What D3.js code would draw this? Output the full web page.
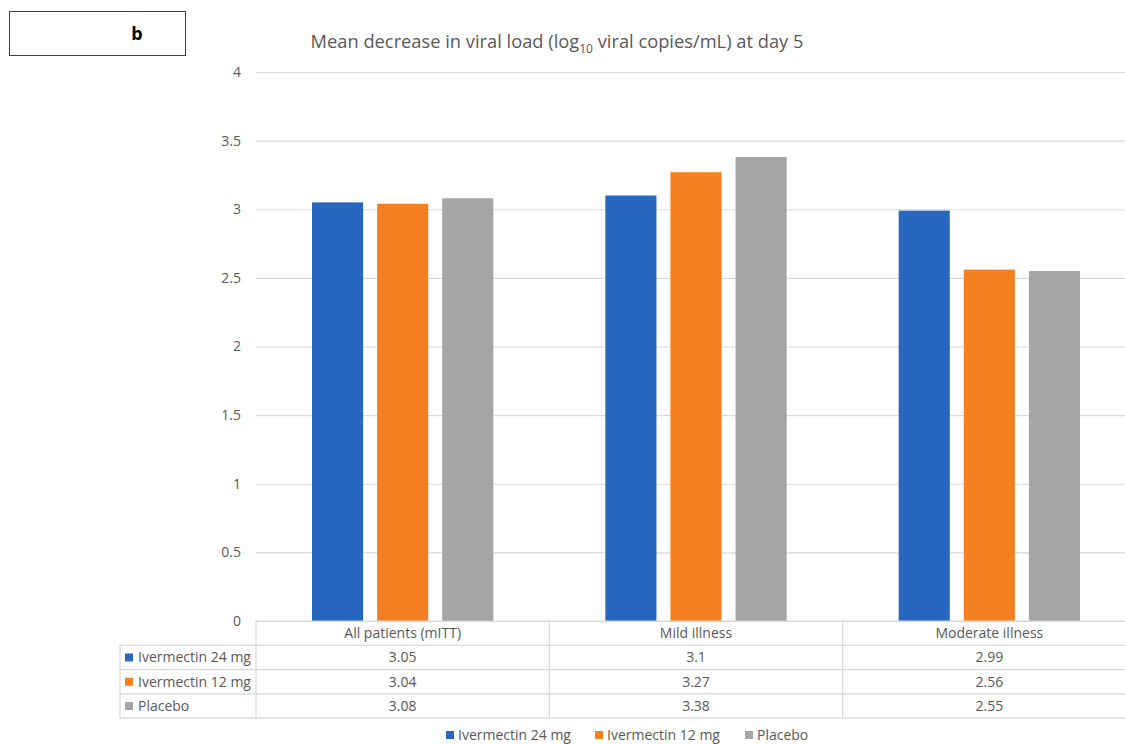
<!DOCTYPE html>
<html><head><meta charset="utf-8">
<script src="https://cdn.jsdelivr.net/npm/d3@7"></script>
<style>body{margin:0;background:#fff}svg{display:block}text{font-family:"Open Sans",sans-serif}</style>
</head><body><svg id="c" width="1125" height="744"></svg>
<script>
const categories = ["All patients (mITT)", "Mild illness", "Moderate illness"];
const seriesNames = ["Ivermectin 24 mg", "Ivermectin 12 mg", "Placebo"];
const iver24 = [3.05, 3.1, 2.99];
const iver12 = [3.04, 3.27, 2.56];
const placebo = [3.08, 3.38, 2.55];
const yTicks = [0, 0.5, 1, 1.5, 2, 2.5, 3, 3.5, 4];
const colors = ["#2767C0", "#F47F20", "#A5A5A5"];
const series = [iver24, iver12, placebo];

const svg = d3.select("#c");
const x = d3.scaleBand().domain(categories).range([256, 1136]);
const y = d3.scaleLinear().domain([0, 4]).range([621, 72]);
const xs = d3.scaleBand().domain(seriesNames).range([0, x.bandwidth()]).paddingInner(0.215).paddingOuter(0.86);

const fs = 14;
const txtC = "#595959";

// frame "b"
svg.append("rect").attr("x", 9.5).attr("y", 11.5).attr("width", 176).attr("height", 44).attr("fill", "none").attr("stroke", "#404040").attr("stroke-width", 1);
svg.append("text").attr("x", 137).attr("y", 40).attr("text-anchor", "middle").attr("font-weight", "bold").attr("font-size", 18).attr("fill", "#000").text("b");

// title
const t = svg.append("text").attr("x", 557).attr("y", 48).attr("text-anchor", "middle").attr("font-size", 18.3).attr("fill", txtC);
t.append("tspan").text("Mean decrease in viral load (log");
t.append("tspan").attr("font-size", 12).attr("dy", 5).text("10");
t.append("tspan").attr("dy", -5).text(" viral copies/mL) at day 5");

// grid
const yAxis = d3.axisLeft(y).tickValues(yTicks).tickSize(-(1125 - 256)).tickFormat(d3.format("~g")).tickPadding(15);
const ga = svg.append("g").attr("transform", "translate(256,0)").call(yAxis);
ga.select(".domain").remove();
ga.selectAll(".tick line").attr("stroke", "#D9D9D9").attr("stroke-width", 1.2);
ga.selectAll(".tick text").attr("fill", txtC).attr("font-size", fs).attr("font-family", "'Open Sans',sans-serif");

// bars
seriesNames.forEach((s, si) => {
  svg.append("g").selectAll("rect").data(categories).join("rect")
    .attr("x", c => x(c) + xs(s))
    .attr("width", xs.bandwidth())
    .attr("y", (c, i) => y(series[si][i]))
    .attr("height", (c, i) => y(0) - y(series[si][i]))
    .attr("fill", colors[si]);
});

// data table
const rowH = 24.3;
const tableTop = 621;
const tableLeft = 120;
const lineC = "#D9D9D9";
const gt = svg.append("g");
gt.append("line").attr("x1", 256).attr("x2", 1136).attr("y1", tableTop).attr("y2", tableTop).attr("stroke", lineC).attr("stroke-width", 1.2);
for (let r = 1; r <= 4; r++) {
  gt.append("line").attr("x1", tableLeft).attr("x2", 1136).attr("y1", tableTop + r * rowH).attr("y2", tableTop + r * rowH).attr("stroke", lineC).attr("stroke-width", 1.2);
}
gt.append("line").attr("x1", tableLeft).attr("x2", tableLeft).attr("y1", tableTop + rowH).attr("y2", tableTop + 4 * rowH).attr("stroke", lineC).attr("stroke-width", 1.2);
categories.forEach(c => {
  gt.append("line").attr("x1", x(c)).attr("x2", x(c)).attr("y1", tableTop).attr("y2", tableTop + 4 * rowH).attr("stroke", lineC).attr("stroke-width", 1.2);
});
gt.selectAll("text.hdr").data(categories).join("text").attr("class", "hdr")
  .attr("x", c => x(c) + x.bandwidth() / 2).attr("y", tableTop + rowH / 2 + 5)
  .attr("text-anchor", "middle").attr("font-size", fs).attr("fill", txtC).text(c => c);
seriesNames.forEach((s, si) => {
  const yy = tableTop + (si + 1) * rowH + rowH / 2;
  gt.append("rect").attr("x", 125).attr("y", yy - 4).attr("width", 8).attr("height", 8).attr("fill", colors[si]);
  gt.append("text").attr("x", 138).attr("y", yy + 5).attr("font-size", fs).attr("fill", txtC).text(s);
  gt.append("g").selectAll("text").data(categories).join("text")
    .attr("x", c => x(c) + x.bandwidth() / 2).attr("y", yy + 5)
    .attr("text-anchor", "middle").attr("font-size", fs).attr("fill", txtC)
    .text((c, i) => series[si][i]);
});

// legend
const legX = [446, 595, 745];
seriesNames.forEach((s, si) => {
  svg.append("rect").attr("x", legX[si]).attr("y", 731).attr("width", 8).attr("height", 8).attr("fill", colors[si]);
  svg.append("text").attr("x", legX[si] + 12).attr("y", 740).attr("font-size", fs).attr("fill", txtC).text(s);
});
</script></body></html>
